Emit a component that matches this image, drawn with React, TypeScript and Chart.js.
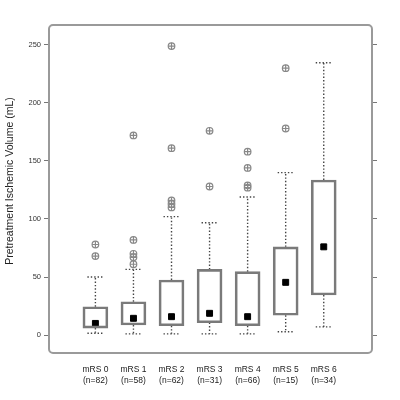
import React, { useEffect, useRef } from "react";
import { Chart, registerables } from "chart.js";

Chart.register(...registerables);

const categories = ["mRS 0", "mRS 1", "mRS 2", "mRS 3", "mRS 4", "mRS 5", "mRS 6"];
const counts = ["(n=82)", "(n=58)", "(n=62)", "(n=31)", "(n=66)", "(n=15)", "(n=34)"];
const q1 = [6, 8.6, 8, 10.6, 8, 17, 34.5];
const q3 = [24.4, 28.7, 47.4, 56.6, 54.6, 76, 133.6];
const medians = [10, 14.4, 15.8, 18.7, 15.8, 45.4, 76];
const whiskerLow = [1.5, 1, 1, 1, 1, 2.8, 7];
const whiskerHigh = [50, 56.6, 102, 96.8, 119, 140, 234.7];
const outliers = [
  [78, 68],
  [172, 82, 70, 67, 61],
  [249, 161, 116, 113, 110],
  [176, 128],
  [158, 144, 129, 127],
  [230, 178],
  [],
];
const yTicks = [0, 50, 100, 150, 200, 250];
const yTitle = "Pretreatment Ischemic Volume (mL)";

const boxPlugin = {
  id: "boxExtras",
  beforeDatasetsDraw(chart: any) {
    const { ctx, scales } = chart;
    const xs = scales.x;
    const ys = scales.y;
    ctx.save();
    ctx.strokeStyle = "#444";
    ctx.lineWidth = 1.4;
    ctx.setLineDash([1.4, 2]);
    for (let i = 0; i < categories.length; i++) {
      const x = xs.getPixelForValue(i);
      const segs = [
        [q3[i], whiskerHigh[i]],
        [q1[i], whiskerLow[i]],
      ];
      for (const [a, b] of segs) {
        ctx.beginPath();
        ctx.moveTo(x, ys.getPixelForValue(a));
        ctx.lineTo(x, ys.getPixelForValue(b));
        ctx.stroke();
        ctx.beginPath();
        ctx.moveTo(x - 8, ys.getPixelForValue(b));
        ctx.lineTo(x + 8, ys.getPixelForValue(b));
        ctx.stroke();
      }
    }
    ctx.restore();
  },
  afterDraw(chart: any) {
    const { ctx, chartArea } = chart;
    ctx.save();
    ctx.strokeStyle = "#9a9a9a";
    ctx.lineWidth = 2;
    ctx.beginPath();
    const l = chartArea.left, t = chartArea.top, w = chartArea.right - chartArea.left, h = chartArea.bottom - chartArea.top;
    (ctx as any).roundRect(l, t, w, h, 4);
    ctx.stroke();
    ctx.translate(10, 181);
    ctx.rotate(-Math.PI / 2);
    ctx.fillStyle = "#222";
    ctx.font = "10.5px 'Liberation Sans', Arial, sans-serif";
    ctx.textAlign = "center";
    ctx.textBaseline = "middle";
    ctx.fillText(yTitle, 0, 0);
    ctx.restore();
  },
};

export default function App() {
  const ref = useRef<HTMLCanvasElement>(null);
  useEffect(() => {
    const outlierPts: { x: number; y: number }[] = [];
    outliers.forEach((arr, i) => arr.forEach((v) => outlierPts.push({ x: i, y: v })));
    const font = { family: "'Liberation Sans', Arial, sans-serif", size: 7.5 };
    const chart = new Chart(ref.current!, {
      type: "bar",
      data: {
        datasets: [
          {
            type: "bar",
            data: categories.map((_, i) => ({ x: i, y: [q1[i], q3[i]] })) as any,
            backgroundColor: "rgba(255,255,255,0)",
            borderColor: "#7a7a7a",
            borderWidth: 2,
            barThickness: 25,
            borderSkipped: false,
          },
          {
            type: "scatter",
            data: medians.map((v, i) => ({ x: i, y: v })),
            pointStyle: "rect",
            pointRadius: 4.2,
            backgroundColor: "#000",
            borderColor: "#000",
            borderWidth: 1,
          } as any,
          {
            type: "scatter",
            data: outlierPts,
            pointStyle: "circle",
            pointRadius: 3.3,
            backgroundColor: "rgba(0,0,0,0)",
            borderColor: "#888",
            borderWidth: 1.2,
          } as any,
          {
            type: "scatter",
            data: outlierPts,
            pointStyle: "cross",
            pointRadius: 3.3,
            borderColor: "#888",
            borderWidth: 1.2,
          } as any,
        ],
      },
      options: {
        animation: false,
        responsive: false,
        maintainAspectRatio: false,
        events: [],
        layout: { padding: { top: 25, left: 0, right: 0, bottom: 0 } },
        plugins: { legend: { display: false }, tooltip: { enabled: false } },
        scales: {
          x: {
            type: "linear",
            min: -0.613,
            max: 6.662,
            grid: { display: false },
            border: { display: false },
            afterBuildTicks: (s: any) => {
              s.ticks = categories.map((_, i) => ({ value: i }));
            },
            afterFit: (s: any) => {
              s.height = 47;
            },
            ticks: {
              autoSkip: false,
              maxRotation: 0,
              padding: 4,
              color: "#222",
              font: { ...font, size: 8.5 },
              callback: (v: any) => [categories[v], counts[v]],
            },
          },
          y: {
            type: "linear",
            position: "left",
            min: -15.5,
            max: 267.2,
            border: { display: false },
            grid: { drawOnChartArea: false, drawTicks: true, tickLength: 5, color: "#777", lineWidth: 1 },
            afterBuildTicks: (s: any) => {
              s.ticks = yTicks.map((v) => ({ value: v }));
            },
            afterFit: (s: any) => {
              s.width = 49;
            },
            ticks: { color: "#333", font, padding: 3 },
          },
          y2: {
            type: "linear",
            position: "right",
            min: -15.5,
            max: 267.2,
            border: { display: false },
            grid: { drawOnChartArea: false, drawTicks: true, tickLength: 5, color: "#777", lineWidth: 1 },
            afterBuildTicks: (s: any) => {
              s.ticks = yTicks.map((v) => ({ value: v }));
            },
            afterFit: (s: any) => {
              s.width = 28;
            },
            ticks: { font, callback: () => "" },
          },
        },
      } as any,
      plugins: [boxPlugin],
    });
    return () => chart.destroy();
  }, []);
  return (
    <div style={{ position: "fixed", left: 0, top: 0, width: 400, height: 400, background: "#fff" }}>
      <canvas ref={ref} width={400} height={400} style={{ width: 400, height: 400 }} />
    </div>
  );
}
